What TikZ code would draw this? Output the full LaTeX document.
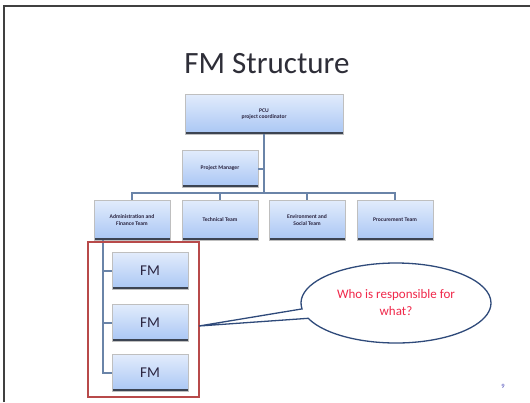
\documentclass[tikz,border=0pt]{standalone}
\usepackage{fontspec}
\setmainfont{Carlito}
\usetikzlibrary{shapes.callouts,calc}
\definecolor{boxtop}{HTML}{E2ECFC}
\definecolor{boxbot}{HTML}{A9C6F4}
\definecolor{boxedge}{HTML}{3C4452}
\definecolor{linec}{HTML}{6A84A8}
\definecolor{redc}{HTML}{B84A4A}
\definecolor{callc}{HTML}{2F4A7A}
\definecolor{titlec}{HTML}{2E2E38}
\definecolor{smalltext}{HTML}{2A2440}
\definecolor{calltext}{HTML}{F0284A}
\tikzset{
  orgbox/.style={draw=black!25, line width=0.4pt, top color=boxtop, bottom color=boxbot,
    minimum width=76pt, minimum height=40pt, inner sep=1pt, align=center,
    font=\fontsize{5.6}{6.6}\selectfont\bfseries, text=smalltext,
    path picture={\draw[line width=4.4pt, boxedge]
      (path picture bounding box.south west) -- (path picture bounding box.south east);}},
  fmbox/.style={orgbox, minimum height=37pt, font=\fontsize{15}{16}\selectfont, text=smalltext},
  conn/.style={draw=linec, line width=2pt},
}
\begin{document}
\begin{tikzpicture}[x=1pt,y=-1pt]
\useasboundingbox (0,0) rectangle (530,402);
\fill[white] (0,0) rectangle (530,402);
% frame
\draw[line width=1.6pt, black!75] (4,402) -- (4,6) -- (530,6);
% title
\node[anchor=base, font=\fontsize{31}{34}\selectfont, text=titlec] (title) at (267,73) {FM Structure};
% boxes
\node[orgbox, minimum width=158pt, minimum height=40pt] (pcu) at (264,114) {PCU\\project coordinator};
\node[orgbox, minimum height=37pt] (pm) at (220,168.5) {Project Manager};
\node[orgbox] (adm) at (132,220) {Administration and\\Finance Team};
\node[orgbox] (tech) at (220,220) {Technical Team};
\node[orgbox] (env) at (307,220) {Environment and\\Social Team};
\node[orgbox] (proc) at (395,220) {Procurement Team};
\node[fmbox] (fm1) at (150,271) {FM};
\node[fmbox] (fm2) at (150,322.5) {FM};
\node[fmbox] (fm3) at (150,373) {FM};
% connectors
\coordinate (bus) at (264,193);
\draw[conn] (pcu.south) -- (bus);
\draw[conn] (pm.east) -- (pm.east -| bus);
\draw[conn] (adm.north) |- (bus) -| (proc.north);
\draw[conn] (tech.north) -- (tech.north |- bus);
\draw[conn] (env.north) -- (env.north |- bus);
\coordinate (fmtop) at (103,240);
\draw[conn] (fmtop) |- (fm3.west);
\draw[conn] (fmtop |- fm1.west) -- (fm1.west);
\draw[conn] (fmtop |- fm2.west) -- (fm2.west);
% red box
\node[draw=redc, line width=1.4pt, minimum width=111pt, minimum height=155pt, inner sep=0pt] (redbox) at (143.5,319.5) {};
% callout
\coordinate (tip) at (199,326);
\node[ellipse callout, draw=callc, line width=1.3pt, fill=white, minimum width=190pt, minimum height=80pt,
  callout absolute pointer={(tip)}, callout pointer arc=14,
  align=center, font=\fontsize{13}{17}\selectfont, text=calltext] (call) at (396,303)
  {Who is responsible for\\what?};
% page number
\node[font=\fontsize{6.5}{7}\selectfont, text=black!40!blue!70] (pg) at (503,386) {9};
\end{tikzpicture}
\end{document}
